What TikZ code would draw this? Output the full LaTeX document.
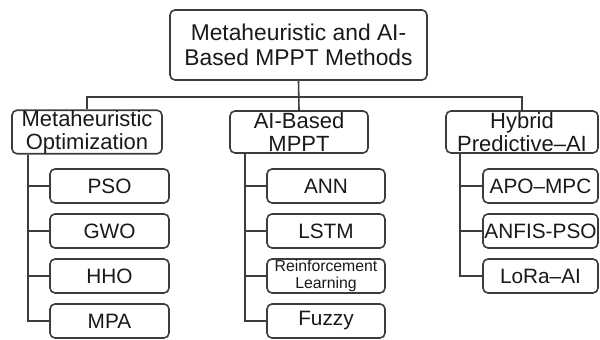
\documentclass[tikz,border=0pt]{standalone}
\usepackage{fontspec}
\setmainfont{Liberation Sans}
\definecolor{linegray}{HTML}{3C3C3C}
\tikzset{
  box/.style={draw=linegray, line width=0.8pt, rounded corners=2.5pt, align=center, inner sep=0pt, text=black!90},
  topbox/.style={box, minimum width=128.5pt, minimum height=35pt, font=\fontsize{11.4}{12.5}\selectfont},
  catbox/.style={box, minimum height=21pt, font=\fontsize{11}{11.5}\selectfont},
  leafbox/.style={box, minimum height=17pt, font=\fontsize{10.4}{11}\selectfont},
  smallleaf/.style={box, minimum height=17pt, font=\fontsize{7.9}{8.2}\selectfont},
  link/.style={draw=linegray, line width=0.8pt}
}
\begin{document}
\begin{tikzpicture}[x=0.5pt, y=-0.5pt]
  \useasboundingbox (0,0) rectangle (600,340);
  \node[topbox] (top) at (298.5,45) {Metaheuristic and AI-\\Based MPPT Methods};
  % categories
  \node[catbox, minimum width=75pt] (meta) at (87,132) {Metaheuristic\\Optimization};
  \node[catbox, minimum width=69pt] (mppt) at (299,132) {AI-Based\\MPPT};
  \node[catbox, minimum width=76pt] (hyb) at (522,132) {Hybrid\\Predictive--AI};
  \coordinate (bus) at (0,97);
  \draw[link] (top.south) -- (mppt.north);
  \draw[link] (meta.north) -- (meta.north |- bus) -- (hyb.north |- bus) -- (hyb.north);
  % methods
  \foreach \name/\txt [count=\i] in {pso/PSO, gwo/GWO, hho/HHO, mpa/MPA}
    \node[leafbox, minimum width=59.5pt] (\name) at (109.5,141+45*\i) {\txt};
  \foreach \name/\txt/\st [count=\i] in {ann/ANN/leafbox, lstm/LSTM/leafbox, rl/{Reinforcement\\Learning}/smallleaf, fuzzy/Fuzzy/leafbox}
    \node[\st, minimum width=59pt] (\name) at (326,141+45*\i) {\txt};
  \foreach \name/\txt [count=\i] in {apo/APO--MPC, anfis/ANFIS-PSO, lora/LoRa--AI}
    \node[leafbox, minimum width=57.5pt] (\name) at (540.5,141+45*\i) {\txt};
  % trunks
  \coordinate (t1) at (28,0);
  \coordinate (t2) at (245,0);
  \coordinate (t3) at (460,0);
  \draw[link] (meta.south -| t1) |- (mpa.west);
  \foreach \n in {pso,gwo,hho} \draw[link] (t1 |- \n.west) -- (\n.west);
  \draw[link] (mppt.south -| t2) |- (fuzzy.west);
  \foreach \n in {ann,lstm,rl} \draw[link] (t2 |- \n.west) -- (\n.west);
  \draw[link] (hyb.south -| t3) |- (lora.west);
  \foreach \n in {apo,anfis} \draw[link] (t3 |- \n.west) -- (\n.west);
\end{tikzpicture}
\end{document}
